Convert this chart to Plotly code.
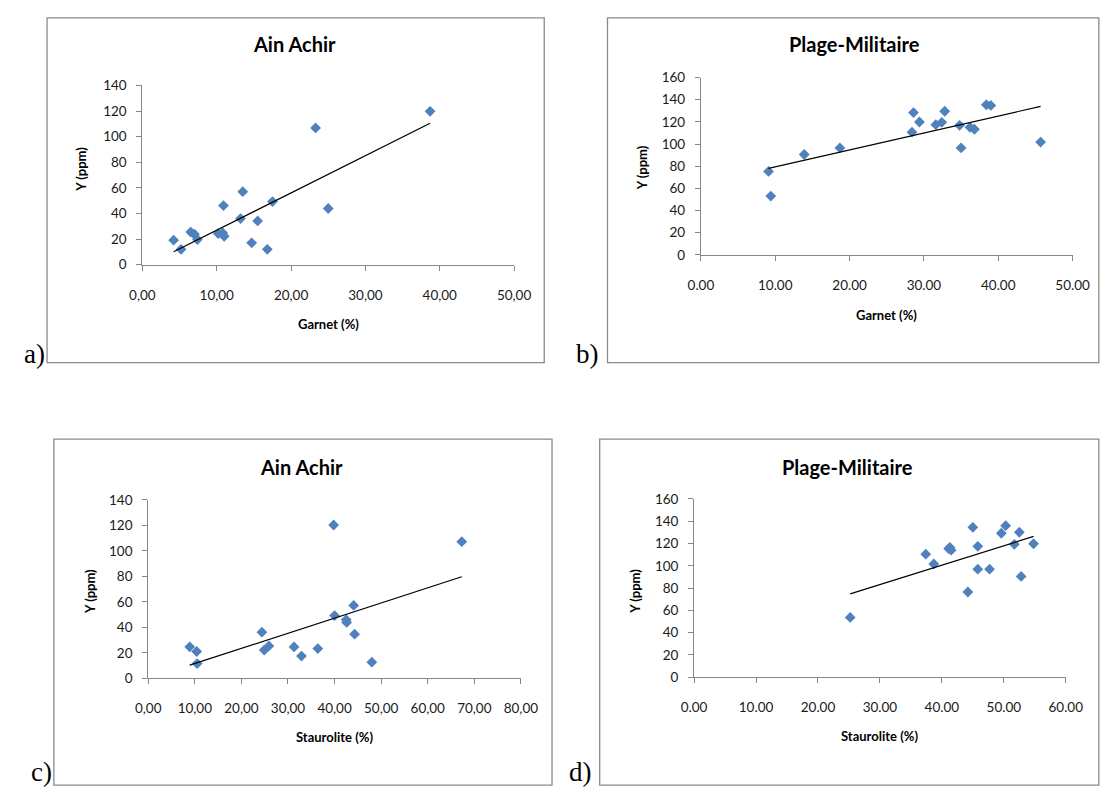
import numpy as np
import plotly.graph_objects as go

W, H = 1110, 796

# ---------------- data ----------------
# a) Ain Achir : Garnet (%) vs Y (ppm)
a_garnet = [4.2, 5.2, 6.5, 7.0, 7.4, 10.2, 10.8, 10.9, 11.0, 13.2, 13.5, 14.7, 15.5, 16.8, 17.5, 23.3, 25.0, 38.7]
a_y      = [19.2, 12.0, 25.5, 23.8, 19.7, 24.3, 24.8, 46.2, 22.2, 36.0, 57.0, 17.1, 34.2, 12.0, 49.3, 106.8, 43.9, 119.8]

# b) Plage-Militaire : Garnet (%) vs Y (ppm)
b_garnet = [9.1, 9.4, 13.9, 18.7, 28.4, 28.6, 29.4, 31.6, 32.4, 32.8, 34.8, 35.0, 36.2, 36.8, 38.4, 39.0, 45.7]
b_y      = [75.3, 53.1, 90.6, 96.5, 110.7, 128.4, 119.9, 117.5, 119.6, 129.6, 116.9, 96.5, 115.1, 113.4, 135.5, 134.9, 101.8]

# c) Ain Achir : Staurolite (%) vs Y (ppm)
c_staurolite = [8.9, 10.4, 10.5, 24.4, 24.9, 25.9, 31.3, 32.9, 36.4, 39.8, 40.0, 42.5, 42.6, 44.1, 44.3, 48.0, 67.3]
c_y          = [24.7, 21.0, 11.5, 36.2, 22.1, 25.4, 24.6, 17.4, 23.3, 120.3, 49.2, 45.9, 43.8, 57.2, 34.6, 12.6, 107.2]

# d) Plage-Militaire : Staurolite (%) vs Y (ppm)
d_staurolite = [25.2, 37.4, 38.7, 41.1, 41.5, 41.3, 44.2, 45.0, 45.8, 45.8, 47.7, 49.6, 50.3, 51.7, 52.5, 52.8, 54.8]
d_y          = [53.7, 110.4, 101.6, 115.4, 114.0, 116.5, 76.5, 134.5, 117.5, 97.0, 97.0, 129.2, 136.0, 119.3, 130.1, 90.5, 119.8]

titles = ["Ain Achir", "Plage-Militaire", "Ain Achir", "Plage-Militaire"]
x_titles = ["Garnet (%)", "Garnet (%)", "Staurolite (%)", "Staurolite (%)"]
y_title = "Y (ppm)"
panel_labels = ["a)", "b)", "c)", "d)"]

a_xticks = [0, 10, 20, 30, 40, 50]
a_xticklabels = ["0,00", "10,00", "20,00", "30,00", "40,00", "50,00"]
b_xticks = [0, 10, 20, 30, 40, 50]
b_xticklabels = ["0.00", "10.00", "20.00", "30.00", "40.00", "50.00"]
c_xticks = [0, 10, 20, 30, 40, 50, 60, 70, 80]
c_xticklabels = ["0,00", "10,00", "20,00", "30,00", "40,00", "50,00", "60,00", "70,00", "80,00"]
d_xticks = [0, 10, 20, 30, 40, 50, 60]
d_xticklabels = ["0.00", "10.00", "20.00", "30.00", "40.00", "50.00", "60.00"]
y140_ticks = [0, 20, 40, 60, 80, 100, 120, 140]
y160_ticks = [0, 20, 40, 60, 80, 100, 120, 140, 160]

# ---------------- layout geometry (pixels) ----------------
panels = [
    dict(x=a_garnet, y=a_y, xt=a_xticks, xtl=a_xticklabels, yt=y140_ticks,
         box=(35, 10, 546, 362), px=(133, 515), py=(79, 262),
         title=(289, 37), xtitle=(324, 322), ytitle=(70, 165), label=(9, 370)),
    dict(x=b_garnet, y=b_y, xt=b_xticks, xtl=b_xticklabels, yt=y160_ticks,
         box=(611, 10, 1116, 362), px=(707, 1089), py=(71, 252),
         title=(865, 37), xtitle=(898, 313), ytitle=(646, 163), label=(577, 370)),
    dict(x=c_staurolite, y=c_y, xt=c_xticks, xtl=c_xticklabels, yt=y140_ticks,
         box=(42, 440, 554, 793), px=(139, 522), py=(502, 684),
         title=(297, 468), xtitle=(330, 744), ytitle=(79, 595), label=(16, 797)),
    dict(x=d_staurolite, y=d_y, xt=d_xticks, xtl=d_xticklabels, yt=y160_ticks,
         box=(603, 440, 1116, 793), px=(700, 1082), py=(501, 683),
         title=(858, 468), xtitle=(891, 743), ytitle=(639, 595), label=(569, 797)),
]

def fx(p):
    return p / W

def fy(p):
    return 1 - p / H

MARKER = "#4F81BD"
AXIS = "#868686"
FONT = "Lato"

fig = go.Figure()
shapes = []
annotations = []

for i, p in enumerate(panels):
    n = "" if i == 0 else str(i + 1)
    xa, ya = "x" + n, "y" + n
    xs = np.array(p["x"], dtype=float)
    ys = np.array(p["y"], dtype=float)

    fig.add_trace(go.Scatter(
        x=xs, y=ys, mode="markers", xaxis=xa, yaxis=ya,
        marker=dict(symbol="diamond", size=8.3, color=MARKER, line=dict(width=0)),
        showlegend=False, hoverinfo="x+y"))

    # linear trendline (least squares) over the data range
    k, b0 = np.polyfit(xs, ys, 1)
    tx = np.array([xs.min(), xs.max()])
    fig.add_trace(go.Scatter(
        x=tx, y=k * tx + b0, mode="lines", xaxis=xa, yaxis=ya,
        line=dict(color="black", width=1.2), showlegend=False, hoverinfo="skip"))

    axis_common = dict(showline=True, linecolor=AXIS, linewidth=1, ticks="outside",
                       ticklen=5, tickcolor=AXIS, tickwidth=1, showgrid=False,
                       zeroline=False, tickfont=dict(family=FONT, size=13.5, color="#1a1a1a"))
    fig.update_layout(**{
        ("xaxis" + n): dict(domain=[fx(p["px"][0]), fx(p["px"][1])], anchor=ya,
                            range=[p["xt"][0], p["xt"][-1]], tickmode="array",
                            tickvals=p["xt"], ticktext=p["xtl"], ticklabelstandoff=13,
                            **axis_common),
        ("yaxis" + n): dict(domain=[fy(p["py"][1]), fy(p["py"][0])], anchor=xa,
                            range=[p["yt"][0], p["yt"][-1]], tickmode="array",
                            tickvals=p["yt"], ticklabelstandoff=7, **axis_common),
    })

    x0, y0, x1, y1 = p["box"]
    shapes.append(dict(type="rect", xref="paper", yref="paper",
                       x0=fx(x0), x1=fx(x1), y0=fy(y1), y1=fy(y0),
                       line=dict(color="#8a8a8a", width=1.3), fillcolor="rgba(0,0,0,0)",
                       layer="below"))

    annotations.append(dict(text="<b>%s</b>" % titles[i], x=fx(p["title"][0]), y=fy(p["title"][1]),
                            xref="paper", yref="paper", showarrow=False,
                            xanchor="center", yanchor="middle",
                            font=dict(family=FONT, size=20, color="black")))
    annotations.append(dict(text="<b>%s</b>" % x_titles[i], x=fx(p["xtitle"][0]), y=fy(p["xtitle"][1]),
                            xref="paper", yref="paper", showarrow=False,
                            xanchor="center", yanchor="middle",
                            font=dict(family=FONT, size=13, color="black")))
    annotations.append(dict(text="<b>%s</b>" % y_title, x=fx(p["ytitle"][0]), y=fy(p["ytitle"][1]),
                            xref="paper", yref="paper", showarrow=False, textangle=-90,
                            xanchor="center", yanchor="middle",
                            font=dict(family=FONT, size=13, color="black")))
    annotations.append(dict(text=panel_labels[i], x=fx(p["label"][0]), y=fy(p["label"][1]),
                            xref="paper", yref="paper", showarrow=False,
                            xanchor="left", yanchor="bottom",
                            font=dict(family="Liberation Serif", size=27, color="black")))

fig.update_layout(
    width=W, height=H, margin=dict(l=0, r=0, t=0, b=0),
    paper_bgcolor="white", plot_bgcolor="white",
    shapes=shapes, annotations=annotations, showlegend=False,
)

# remove the default 8px page margin so the figure sits at the window's top-left corner
fig.write_html("out.html", config={"displayModeBar": False},
               post_script="document.body.style.margin='0';")
